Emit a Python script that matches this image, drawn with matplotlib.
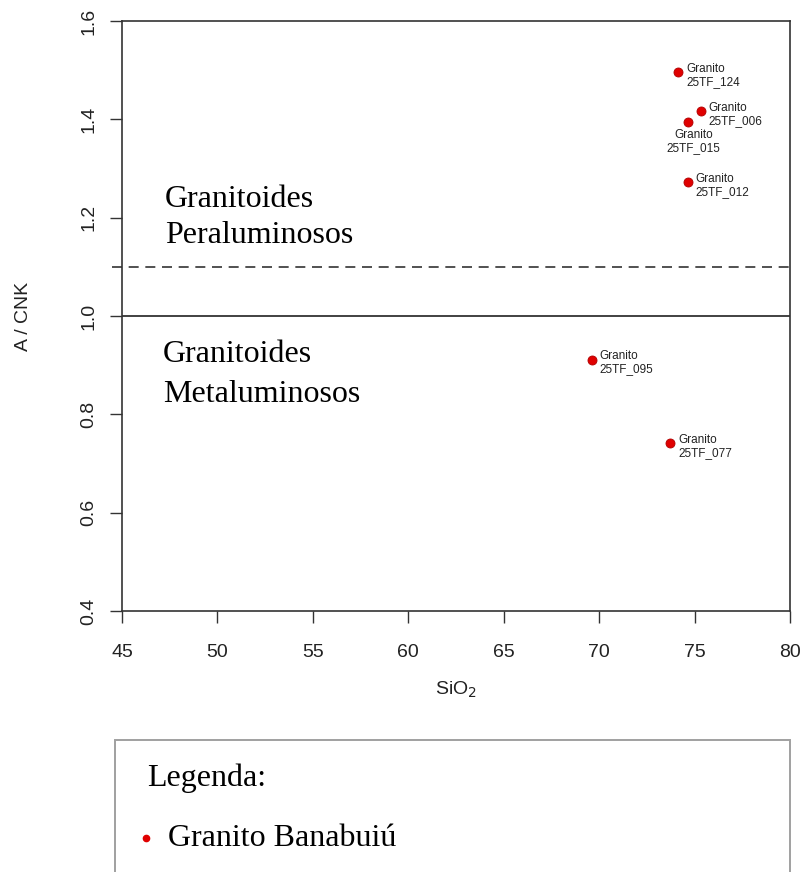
import matplotlib
matplotlib.use("Agg")
from matplotlib import pyplot as plt
from matplotlib.patches import Rectangle
from matplotlib.lines import Line2D

# data
sio2 = [74.13, 75.32, 74.64, 74.64, 69.61, 73.71]
acnk = [1.496, 1.416, 1.395, 1.272, 0.911, 0.741]
samples = ["25TF_124", "25TF_006", "25TF_015", "25TF_012", "25TF_095", "25TF_077"]
rock = "Granito"
x_ticks = [45, 50, 55, 60, 65, 70, 75, 80]
y_ticks = [0.4, 0.6, 0.8, 1.0, 1.2, 1.4, 1.6]
line_solid = 1.0
line_dashed = 1.1

plt.rcParams["font.family"] = ["Liberation Sans", "DejaVu Sans"]

W, H = 803, 872
fig = plt.figure(figsize=(W / 100, H / 100), dpi=100)
ax = fig.add_axes([122 / W, 1 - 611 / H, (790 - 122) / W, (611 - 21) / H])

dark = "#333333"
red = "#e00000"

ax.set_xlim(45, 80)
ax.set_ylim(0.4, 1.6)
for s in ax.spines.values():
    s.set_color(dark)
    s.set_linewidth(1.2)

ax.set_xticks(x_ticks)
ax.set_yticks(y_ticks)
ax.set_xticklabels([str(v) for v in x_ticks])
ax.set_yticklabels([f"{v:.1f}" for v in y_ticks], rotation=90, va="center")
ax.tick_params(axis="both", length=8.5, width=1.0, color=dark,
               labelsize=14, labelcolor="#222222")
ax.tick_params(axis="x", pad=15)
ax.tick_params(axis="y", pad=9)

# boundary lines
ax.axhline(line_solid, color=dark, lw=1.3)
ax.plot([44.5, 80], [line_dashed, line_dashed], color=dark, lw=1.2,
        linestyle=(0, (6, 4)), clip_on=False)

# points
ax.plot(sio2, acnk, "o", color=red, ms=6.5, mec="#b00000", mew=0.6, zorder=3)
for x, y, name in zip(sio2, acnk, samples):
    if name == "25TF_015":
        ax.annotate(f"{rock}\n{name}", (x, y), xytext=(6, -7),
                    textcoords="offset pixels", ha="center", va="top",
                    fontsize=8.5, color="#222222", linespacing=1.1)
    else:
        ax.annotate(f"{rock}\n{name}", (x, y), xytext=(8, -3),
                    textcoords="offset pixels", ha="left", va="center",
                    fontsize=8.5, color="#222222", linespacing=1.1)

# field names
serif = "Liberation Serif"
for txt, x, y in [("Granitoides", 47.25, 1.222), ("Peraluminosos", 47.25, 1.1485),
                  ("Granitoides", 47.15, 0.9065), ("Metaluminosos", 47.15, 0.825)]:
    ax.text(x, y, txt, family=serif, fontsize=23, ha="left", va="baseline")

# axis labels
ax.set_xlabel("SiO$_2$", fontsize=14, color="#222222")
ax.xaxis.set_label_coords(0.5, -(690 - 611) / 590)
ax.xaxis.label.set_va("center")
ax.set_ylabel("A / CNK", fontsize=14, color="#222222")
ax.yaxis.set_label_coords(-(122 - 23) / 668, (611 - 316) / 590)
ax.yaxis.label.set_va("center")

# legend box below the plot
fig.add_artist(Rectangle((115 / W, -0.05), (790 - 115) / W, 0.05 + 1 - 740 / H,
                         transform=fig.transFigure, fill=False,
                         edgecolor="#a0a0a0", lw=1.4))
fig.text(147 / W, 1 - 786 / H, "Legenda:", family=serif, fontsize=23,
         va="baseline", ha="left")
fig.add_artist(Line2D([146 / W], [1 - 838 / H], marker="o", color=red, ms=4.5,
                      transform=fig.transFigure))
fig.text(168 / W, 1 - 846 / H, "Granito Banabuiú", family=serif, fontsize=23,
         va="baseline", ha="left")

fig.savefig("out.png", dpi=100)
